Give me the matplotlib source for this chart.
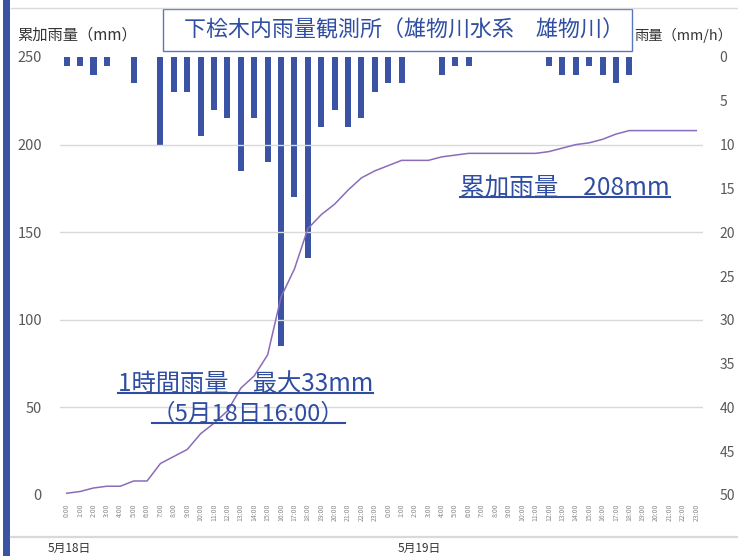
import matplotlib
matplotlib.use("Agg")
import matplotlib.pyplot as plt
from matplotlib.patches import Rectangle
from matplotlib.lines import Line2D

plt.rcParams['font.family'] = ['Noto Sans CJK JP', 'DejaVu Sans']

# ---- data ----
hour_labels = [f"{h}:00" for h in range(24)] * 2
rain_hourly = [1, 1, 2, 1, 0, 3, 0, 10, 4, 4, 9, 6, 7, 13, 7, 12, 33, 16, 23, 8, 6, 8, 7, 4,
               3, 3, 0, 0, 2, 1, 1, 0, 0, 0, 0, 0, 1, 2, 2, 1, 2, 3, 2, 0, 0, 0, 0, 0]
rain_cumulative = [1, 2, 4, 5, 5, 8, 8, 18, 22, 26, 35, 41, 48, 61, 68, 80, 113, 129, 152, 160, 166, 174, 181, 185,
                   188, 191, 191, 191, 193, 194, 195, 195, 195, 195, 195, 195, 196, 198, 200, 201, 203, 206, 208, 208, 208, 208, 208, 208]
left_ticks = [0, 50, 100, 150, 200, 250]
right_ticks = [0, 5, 10, 15, 20, 25, 30, 35, 40, 45, 50]
date_labels = ["5月18日", "5月19日"]
title = "下桧木内雨量観測所（雄物川水系　雄物川）"
left_label = "累加雨量（mm）"
right_label = "雨量（mm/h）"
note_max = ["1時間雨量　最大33mm", "（5月18日16:00）"]
note_total = "累加雨量　208mm"

W, H = 738, 556
fig = plt.figure(figsize=(W / 100, H / 100), dpi=100)
fig.patch.set_facecolor('white')

def fx(px):
    return px / W

def fy(py):
    return 1 - py / H

ax = fig.add_axes([fx(60), fy(495), fx(643), 438 / H])
ax2 = ax.twinx()

x = list(range(len(hour_labels)))
BAR = '#3A53A4'
TXT_BLUE = '#2F4EA2'

ax2.bar(x, rain_hourly, width=0.45, color=BAR, zorder=2)
ax2.set_ylim(50, 0)
ax2.set_yticks(right_ticks)

ax.plot(x, rain_cumulative, color='#8A6CB8', lw=1.1, zorder=3)
ax.set_ylim(0, 250)
ax.set_yticks(left_ticks)
ax.set_xlim(-0.5, len(x) - 0.5)
ax.set_xticks(x)
ax.set_xticklabels(hour_labels, rotation=90, fontsize=5, color='#8a8a8a')
ax.tick_params(axis='x', length=0, pad=6)
ax.tick_params(axis='y', length=0, pad=13, labelsize=10.5, labelcolor='#595959')
ax2.tick_params(axis='y', length=0, pad=12, labelsize=10, labelcolor='#595959')
for a in (ax, ax2):
    for s in a.spines.values():
        s.set_visible(False)
ax.yaxis.grid(True, color='#d9d9d9', lw=1)
ax.set_axisbelow(True)
gl = ax.get_ygridlines()
gl[0].set_visible(False)
gl[-1].set_visible(False)

ax.set_zorder(ax2.get_zorder() + 1)
ax.patch.set_visible(False)

# frame decorations
fig.add_artist(Rectangle((fx(3), 0), fx(7), 1, transform=fig.transFigure, color=BAR, lw=0))
fig.add_artist(Line2D([fx(11), 1], [fy(8), fy(8)], transform=fig.transFigure, color='#d9d9d9', lw=1))
fig.add_artist(Line2D([fx(11), 1], [fy(537), fy(537)], transform=fig.transFigure, color='#d9d9d9', lw=1.6))

# title box
fig.add_artist(Rectangle((fx(163), fy(51)), fx(632 - 163), (51 - 9) / H, transform=fig.transFigure,
                         facecolor='white', edgecolor='#5A76BE', lw=1))
fig.text(fx(404), fy(30), title, ha='center', va='center', fontsize=15.8, color=TXT_BLUE)

fig.text(fx(17), fy(35), left_label, ha='left', va='center', fontsize=11, color='#333333')
fig.text(fx(634), fy(35), right_label, ha='left', va='center', fontsize=10.3, color='#333333')

fig.text(fx(48), fy(548), date_labels[0], ha='left', va='center', fontsize=8.5, color='#333333')
fig.text(fx(398), fy(548), date_labels[1], ha='left', va='center', fontsize=8.5, color='#333333')

notes = [
    (note_max[0], 118, 391, 17.5),
    (note_max[1], 152, 421, 17),
    (note_total, 460, 195, 17.7),
]
texts = []
for s, px, py, fs in notes:
    t = fig.text(fx(px), fy(py), s, ha='left', va='baseline', fontsize=fs, color=TXT_BLUE)
    texts.append((t, py))

fig.canvas.draw()
r = fig.canvas.get_renderer()
for t, py in texts:
    bb = t.get_window_extent(r)
    fig.add_artist(Line2D([bb.x0 / W, bb.x1 / W], [fy(py + 2), fy(py + 2)], transform=fig.transFigure,
                          color=TXT_BLUE, lw=1.5))

fig.savefig('out.png', dpi=100)
